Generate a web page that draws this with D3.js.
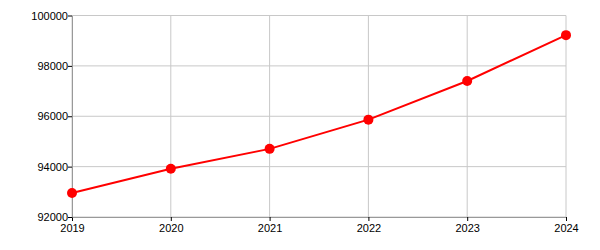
<!DOCTYPE html>
<html>
<head>
<meta charset="utf-8">
<script src="https://cdn.jsdelivr.net/npm/d3@7"></script>
<style>
  body { margin: 0; background: #fff; }
  svg { display: block; font-family: "Liberation Sans", Arial, sans-serif; }
</style>
</head>
<body>
<div id="chart"></div>
<script>
var years = [2019, 2020, 2021, 2022, 2023, 2024]
var values = [92950, 93915, 94705, 95865, 97400, 99220]
var yTicks = [92000, 94000, 96000, 98000, 100000]

var margin = { top: 15.5, right: 34, bottom: 33, left: 72 }
var width = 600 - margin.left - margin.right
var height = 250 - margin.top - margin.bottom

var data = years.map(function (y, i) { return { year: y, value: values[i] } })

var x = d3.scaleLinear().domain([2019, 2024]).range([0, width])
var y = d3.scaleLinear().domain([92000, 100000]).range([height, 0])

var svg = d3.select("#chart")
    .append("svg")
    .attr("width", 600)
    .attr("height", 250)
    .append("g")
    .attr("transform", "translate(" + margin.left + "," + margin.top + ")")

// grid
svg.append("g")
    .selectAll("line")
    .data(years)
    .enter().append("line")
    .attr("x1", function (d) { return x(d) })
    .attr("x2", function (d) { return x(d) })
    .attr("y1", 0)
    .attr("y2", height)
    .attr("stroke", "#c8c8c8")

svg.append("g")
    .selectAll("line")
    .data(yTicks)
    .enter().append("line")
    .attr("x1", 0)
    .attr("x2", width)
    .attr("y1", function (d) { return y(d) })
    .attr("y2", function (d) { return y(d) })
    .attr("stroke", "#c8c8c8")

var xAxis = svg.append("g")
    .attr("transform", "translate(0," + height + ")")
    .call(d3.axisBottom(x).tickValues(years).tickFormat(d3.format("d")).tickSize(4).tickSizeOuter(0))

var yAxis = svg.append("g")
    .call(d3.axisLeft(y).tickValues(yTicks).tickFormat(d3.format("d")).tickSize(4).tickSizeOuter(0))

;[xAxis, yAxis].forEach(function (a) {
    a.select(".domain").attr("stroke", "#999")
    a.selectAll(".tick line").attr("stroke", "#000")
    a.selectAll(".tick text")
        .attr("fill", "#000")
        .style("font-size", "11px")
        .style("font-family", "'Liberation Sans', Arial, sans-serif")
})
yAxis.selectAll(".tick text").attr("x", -4)
xAxis.selectAll(".tick text").attr("y", 7)

var line = d3.line()
    .x(function (d) { return x(d.year) })
    .y(function (d) { return y(d.value) })

svg.append("path")
    .datum(data)
    .attr("fill", "none")
    .attr("stroke", "#ff0000")
    .attr("stroke-width", 2)
    .attr("d", line)

svg.selectAll(".dot")
    .data(data)
    .enter().append("circle")
    .attr("class", "dot")
    .attr("cx", function (d) { return x(d.year) })
    .attr("cy", function (d) { return y(d.value) })
    .attr("r", 5)
    .attr("fill", "#ff0000")
</script>
</body>
</html>
